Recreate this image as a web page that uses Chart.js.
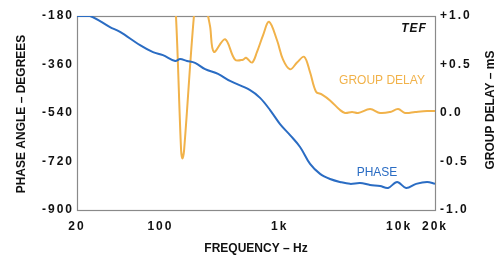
<!DOCTYPE html>
<html><head><meta charset="utf-8">
<script src="https://cdn.jsdelivr.net/npm/chart.js@4/dist/chart.umd.min.js"></script>
<style>html,body{margin:0;padding:0;background:#fff}</style>
</head><body>
<canvas id="c" width="496" height="256"></canvas>
<script>
const xTickValues = [20, 100, 1000, 10000, 20000];
const xTickLabels = ['20', '100', '1k', '10k', '20k'];
const phaseTickValues = [-180, -360, -540, -720, -900];
const gdTickValues = [1, 0.5, 0, -0.5, -1];
const gdTickLabels = ['+1.0', '+0.5', '0.0', '-0.5', '-1.0'];

const phaseFreq = [20, 25.7, 37.8, 45.9, 67.5, 86.7, 105, 133, 146, 167, 195, 237, 304, 383, 564, 684, 830, 1006, 1220, 1480, 1795, 2178, 2640, 3204, 3884, 4712, 5716, 6932, 8092, 9626, 11452, 13900, 17172, 20000];
const phaseDeg  = [-180, -180, -221, -239, -288, -314, -325, -347, -340, -347, -354, -377, -395, -421, -455, -484, -529, -581, -622, -666, -729, -766, -785, -796, -803, -800, -807, -811, -818, -796, -818, -803, -796, -803];

const gdFreq = [125, 135, 149, 153, 158, 191, 215, 251, 261, 281, 348, 422, 492, 522, 586, 645, 724, 813, 949, 1066, 1220, 1396, 1600, 1795, 2014, 2264, 2640, 3204, 3526, 4036, 4532, 5716, 6932, 8408, 9816, 11230, 13620, 17172, 20000];
const gdMs   = [1.5, 1.0, -0.38, -0.47, -0.38, 1.0, 1.5, 1.0, 0.89, 0.63, 0.76, 0.55, 0.55, 0.57, 0.52, 0.63, 0.80, 0.94, 0.75, 0.55, 0.45, 0.52, 0.58, 0.42, 0.22, 0.19, 0.13, 0.03, 0.0, 0.01, 0.0, 0.04, 0.0, 0.01, 0.04, 0.0, 0.01, 0.02, 0.02];

const PHASE_COLOR = '#2a6cc3';
const GD_COLOR = '#f1b24a';
const FONT = '"Liberation Sans", Arial, sans-serif';

const toPts = (xs, ys) => xs.map((x, i) => ({x: x, y: ys[i]}));

const decor = {
  id: 'decor',
  beforeDraw(chart) { chart.ctx.letterSpacing = '2px'; },
  beforeDatasetsDraw(chart) {
    const ctx = chart.ctx, a = chart.chartArea;
    ctx.save();
    ctx.strokeStyle = '#8a8a8a';
    ctx.lineWidth = 1.2;
    ctx.strokeRect(Math.round(a.left) + 0.5, Math.round(a.top) + 0.5, Math.round(a.right - a.left), Math.round(a.bottom - a.top));
    ctx.restore();
  },
  afterDraw(chart) {
    const ctx = chart.ctx;
    ctx.save();
    ctx.letterSpacing = '0px';
    ctx.fillStyle = '#111';
    ctx.textAlign = 'center';
    ctx.textBaseline = 'middle';
    ctx.font = 'bold 12px ' + FONT;
    ctx.fillText('FREQUENCY – Hz', 256, 249);
    ctx.save(); ctx.translate(22, 114); ctx.rotate(-Math.PI / 2);
    ctx.fillText('PHASE ANGLE – DEGREES', 0, 0); ctx.restore();
    ctx.save(); ctx.translate(491, 110); ctx.rotate(-Math.PI / 2);
    ctx.fillText('GROUP DELAY – mS', 0, 0); ctx.restore();
    ctx.font = 'italic bold 12px ' + FONT;
    ctx.letterSpacing = '1px';
    ctx.fillText('TEF', 414, 29);
    ctx.letterSpacing = '0px';
    ctx.font = '12px ' + FONT;
    ctx.fillStyle = GD_COLOR;
    ctx.fillText('GROUP DELAY', 382, 81);
    ctx.fillStyle = PHASE_COLOR;
    ctx.fillText('PHASE', 377, 173);
    ctx.restore();
  }
};

new Chart(document.getElementById('c'), {
  type: 'line',
  data: {
    datasets: [
      {label: 'Phase', data: toPts(phaseFreq, phaseDeg), yAxisID: 'y', borderColor: PHASE_COLOR, borderWidth: 2, pointRadius: 0, tension: 0.35, fill: false},
      {label: 'Group delay', data: toPts(gdFreq, gdMs), yAxisID: 'y1', borderColor: GD_COLOR, borderWidth: 2, pointRadius: 0, tension: 0.35, fill: false}
    ]
  },
  options: {
    responsive: false, animation: false, devicePixelRatio: 1,
    layout: {padding: {top: 16, left: 0, right: 0, bottom: 0}},
    plugins: {legend: {display: false}, tooltip: {enabled: false}},
    scales: {
      x: {
        type: 'logarithmic', position: 'bottom', min: 20, max: 20000,
        grid: {display: false, drawTicks: false}, border: {display: false},
        afterBuildTicks: s => { s.ticks = xTickValues.map(v => ({value: v})); },
        afterFit: s => { s.height = 46; },
        ticks: {autoSkip: false, maxRotation: 0, padding: 9, color: '#111', font: {family: FONT, size: 12, weight: 'bold'},
          callback: v => { const i = xTickValues.indexOf(v); return i >= 0 ? xTickLabels[i] : ''; }}
      },
      y: {
        position: 'left', min: -900, max: -180,
        grid: {display: false, drawTicks: false}, border: {display: false},
        afterBuildTicks: s => { s.ticks = phaseTickValues.map(v => ({value: v})); },
        afterFit: s => { s.width = 77; },
        ticks: {padding: 3, color: '#111', font: {family: FONT, size: 12, weight: 'bold'}, callback: v => String(v)}
      },
      y1: {
        position: 'right', min: -1, max: 1,
        grid: {display: false, drawTicks: false}, border: {display: false},
        afterBuildTicks: s => { s.ticks = gdTickValues.map(v => ({value: v})); },
        afterFit: s => { s.width = 61; },
        ticks: {padding: 5, color: '#111', font: {family: FONT, size: 12, weight: 'bold'},
          callback: v => { const i = gdTickValues.indexOf(v); return i >= 0 ? gdTickLabels[i] : ''; }}
      }
    }
  },
  plugins: [decor]
});
</script>
</body></html>
